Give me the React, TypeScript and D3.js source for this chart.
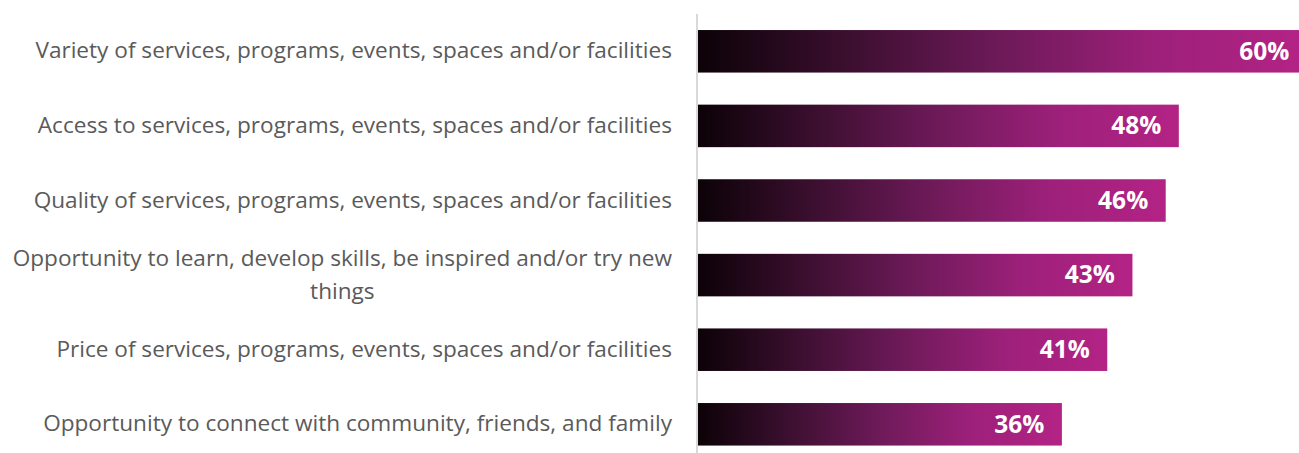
import React, { useEffect, useRef } from "react";
import * as d3 from "d3";

const categories = [
  "Variety of services, programs, events, spaces and/or facilities",
  "Access to services, programs, events, spaces and/or facilities",
  "Quality of services, programs, events, spaces and/or facilities",
  "Opportunity to learn, develop skills, be inspired and/or try new things",
  "Price of services, programs, events, spaces and/or facilities",
  "Opportunity to connect with community, friends, and family",
];
const values = [60.4, 47.7, 46.4, 43.1, 40.6, 36.1];
const valueLabels = ["60%", "48%", "46%", "43%", "41%", "36%"];

const W = 1299;
const H = 453;
const FONT = "'Open Sans', 'Noto Sans', sans-serif";

export default function App() {
  const ref = useRef<SVGSVGElement | null>(null);

  useEffect(() => {
    document.body.style.margin = "0";
    const svg = d3.select(ref.current);
    svg.selectAll("*").remove();

    const x = d3.scaleLinear().domain([0, 60]).range([698, 698 + 604.8]);
    const y = d3
      .scaleBand<string>()
      .domain(categories)
      .range([14, 14 + 447.6])
      .paddingInner(0.43)
      .paddingOuter(0.215);

    const defs = svg.append("defs");
    const grad = defs
      .append("linearGradient")
      .attr("id", "barGrad")
      .attr("x1", "0%")
      .attr("x2", "100%")
      .attr("y1", "0%")
      .attr("y2", "0%");
    grad.append("stop").attr("offset", "0%").attr("stop-color", "#0c0207");
    grad.append("stop").attr("offset", "25%").attr("stop-color", "#3c0f30");
    grad.append("stop").attr("offset", "50%").attr("stop-color", "#6e1a59");
    grad.append("stop").attr("offset", "75%").attr("stop-color", "#9d207a");
    grad.append("stop").attr("offset", "100%").attr("stop-color", "#b32385");

    defs
      .append("clipPath")
      .attr("id", "clip")
      .append("rect")
      .attr("x", 0)
      .attr("y", 0)
      .attr("width", W)
      .attr("height", H);

    const g = svg.append("g").attr("clip-path", "url(#clip)");

    g.selectAll("rect.bar")
      .data(values)
      .join("rect")
      .attr("class", "bar")
      .attr("x", x(0))
      .attr("y", (_, i) => y(categories[i])!)
      .attr("width", (d) => x(d) - x(0))
      .attr("height", y.bandwidth())
      .attr("fill", "url(#barGrad)");

    g.append("line")
      .attr("x1", 697)
      .attr("x2", 697)
      .attr("y1", 14)
      .attr("y2", H)
      .attr("stroke", "#d9d9d9")
      .attr("stroke-width", 2);

    g.selectAll("text.val")
      .data(values)
      .join("text")
      .attr("class", "val")
      .attr("x", (d) => x(d) - 17.5)
      .attr("y", (_, i) => y(categories[i])! + y.bandwidth() / 2 + 8.3)
      .attr("text-anchor", "end")
      .attr("fill", "#ffffff")
      .attr("font-family", FONT)
      .attr("font-weight", 700)
      .attr("font-size", 24.5)
      .text((_, i) => valueLabels[i]);

    const maxW = 668;
    const rightX = 672;
    const lineH = 33;
    categories.forEach((cat, i) => {
      const cy = y(cat)! + y.bandwidth() / 2;
      const t = g
        .append("text")
        .attr("font-family", FONT)
        .attr("font-size", 22.6)
        .attr("fill", "#5a5a5a");
      const words = cat.split(" ");
      const lines: string[] = [];
      let cur = "";
      const probe = t.append("tspan");
      words.forEach((w) => {
        const test = cur ? cur + " " + w : w;
        probe.text(test);
        if ((probe.node() as SVGTextContentElement).getComputedTextLength() > maxW && cur) {
          lines.push(cur);
          cur = w;
        } else {
          cur = test;
        }
      });
      lines.push(cur);
      probe.remove();
      const widths: number[] = lines.map((l) => {
        const p = t.append("tspan").text(l);
        const wdt = (p.node() as SVGTextContentElement).getComputedTextLength();
        p.remove();
        return wdt;
      });
      const blockW = d3.max(widths) ?? 0;
      const centerX = rightX - blockW / 2;
      const base = cy + 7 - ((lines.length - 1) * lineH) / 2;
      lines.forEach((l, k) => {
        t.append("tspan")
          .attr("x", centerX)
          .attr("y", base + k * lineH)
          .attr("text-anchor", "middle")
          .text(l);
      });
    });
  }, []);

  return (
    <svg
      ref={ref}
      width={W}
      height={H}
      style={{ display: "block", position: "absolute", left: 0, top: 0 }}
    />
  );
}
